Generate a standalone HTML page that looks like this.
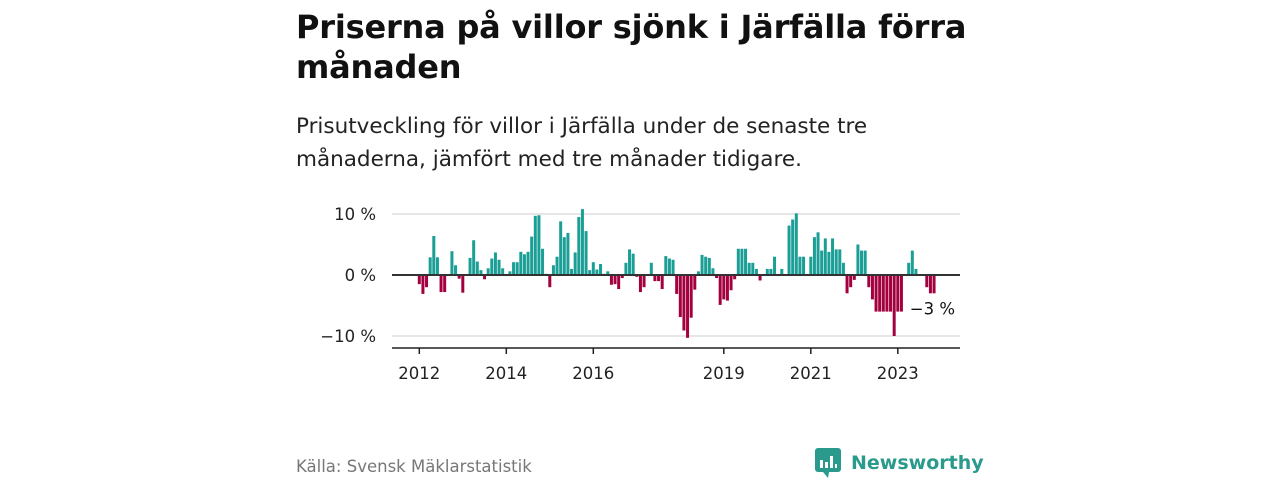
<!DOCTYPE html>
<html><head><meta charset="utf-8"><style>
body{margin:0;width:1280px;height:480px;background:#fff;font-family:"DejaVu Sans","Liberation Sans",sans-serif;position:relative;overflow:hidden}
h1{position:absolute;left:296px;top:7px;margin:0;font-size:32px;line-height:40px;font-weight:bold;color:#111;width:720px;letter-spacing:-0.2px}
.sub{position:absolute;left:296px;top:110px;margin:0;font-size:21.5px;line-height:33px;color:#222;width:630px}
.src{position:absolute;left:296px;top:457px;font-size:16.5px;color:#777}
.logo{position:absolute;left:815px;top:448px;display:flex;align-items:center;color:#2a9a8c;font-size:19px;font-weight:bold}
</style></head><body>
<h1>Priserna på villor sjönk i Järfälla förra månaden</h1>
<p class="sub">Prisutveckling för villor i Järfälla under de senaste tre månaderna, jämfört med tre månader tidigare.</p>
<svg id="chart" width="1280" height="480" style="position:absolute;left:0;top:0"></svg>
<div class="src">Källa: Svensk Mäklarstatistik</div>
<div class="logo">
<svg width="26" height="30" viewBox="0 0 26 30" style="margin-right:10px"><rect x="0" y="0" width="26" height="24" rx="3" fill="#2a9a8c"/><path d="M8 24 L13 30 L14 24Z" fill="#2a9a8c"/><rect x="5" y="12" width="3" height="8" fill="#fff"/><rect x="10" y="14" width="3" height="6" fill="#fff"/><rect x="15" y="8" width="3" height="12" fill="#fff"/><rect x="20" y="16" width="2" height="4" fill="#fff"/></svg>
<span>Newsworthy</span></div>
<script>
const months=[0,1,2,3,4,5,6,7,9,10,11,12,14,15,16,17,18,19,20,21,22,23,25,26,27,28,29,30,31,32,33,34,35,36,37,38,39,40,41,42,43,44,45,46,47,48,49,50,51,52,53,54,55,56,57,58,59,60,61,62,63,64,65,66,67,68,69,70,71,72,73,74,75,76,77,78,79,80,81,82,83,84,85,86,87,88,89,90,91,92,93,94,96,97,98,100,102,103,104,105,106,108,109,110,111,112,113,114,115,116,117,118,119,120,121,122,123,124,125,126,127,128,129,130,131,132,133,135,136,137,140,141,142];
const values=[-1.5,-3.1,-2,2.9,6.4,2.9,-2.8,-2.8,3.9,1.6,-0.6,-2.9,2.8,5.7,2.2,0.8,-0.7,1.1,2.7,3.7,2.5,1.1,0.6,2.1,2.1,3.8,3.4,3.8,6.3,9.7,9.8,4.3,0.2,-2,1.6,3,8.8,6.2,6.9,1,3.7,9.5,10.8,7.2,0.8,2.1,0.9,1.8,0.2,0.6,-1.6,-1.5,-2.3,-0.5,2,4.2,3.5,-0.3,-2.8,-2,0.1,2,-1,-1,-2.3,3.1,2.7,2.5,-3.1,-6.9,-9.1,-10.3,-7,-2.4,0.6,3.3,3,2.8,1.1,-0.5,-4.9,-4,-4.2,-2.5,-0.7,4.3,4.3,4.3,2,2,1,-0.9,1,1,3,1,8.1,9.1,10.1,3,3,3,6.2,7,4,6,3.8,6,4.2,4.2,2,-3,-2,-0.8,5,4,4,-2,-4,-6,-6,-6,-6,-6,-10,-6,-6,2,4,1,-2,-3,-3];
const yTicks=[10,0,-10];
const yTickLabels=["10 %","0 %","\u221210 %"];
const xTickYears=[2012,2014,2016,2019,2021,2023];
const svg=document.getElementById('chart');const NS='http://www.w3.org/2000/svg';
const FF='DejaVu Sans, Liberation Sans, sans-serif';
const x=m=>419.3+m*3.625;
const y=v=>275-v*6.1;
function mk(t,a){const e=document.createElementNS(NS,t);for(const k in a)e.setAttribute(k,a[k]);svg.appendChild(e);return e;}
yTicks.forEach((t,i)=>{
 const g=mk('line',{x1:392,x2:960,y1:y(t),y2:y(t),stroke:t===0?'#333':'#ddd','stroke-width':t===0?2:1.5});
 
 
 const l=mk('text',{x:376,y:y(t)+6,'text-anchor':'end','font-size':16.5,fill:'#222','font-family':FF});
 l.textContent=yTickLabels[i];
 
 
});
months.forEach((m,i)=>{
 const v=values[i];
 const r=mk('rect',{x:x(m)-1.5,width:3,y:Math.min(y(v),y(0)),height:Math.abs(y(v)-y(0)),fill:v>=0?'#1a9e96':'#a3003f'});
 
 
});
const zl=mk('line',{x1:392,x2:960,y1:y(0),y2:y(0),stroke:'#333','stroke-width':2});


const ax=mk('line',{x1:392,x2:960,y1:348,y2:348,stroke:'#222','stroke-width':1.5});


xTickYears.forEach(yr=>{
 const px=x((yr-2012)*12);
 const t=mk('line',{x1:px,x2:px,y1:348,y2:354,stroke:'#222','stroke-width':1.5});
 
 
 const l=mk('text',{x:px,y:379,'text-anchor':'middle','font-size':16.5,fill:'#222','font-family':FF});
 l.textContent=yr;
 
 
});
const lastV=values[values.length-1];
const ann=mk('text',{x:955,y:y(lastV)+21,'text-anchor':'end','font-size':16.5,fill:'#111','font-family':FF});
ann.textContent='\u2212'+Math.abs(Math.round(lastV))+' %';


</script>
</body></html>
